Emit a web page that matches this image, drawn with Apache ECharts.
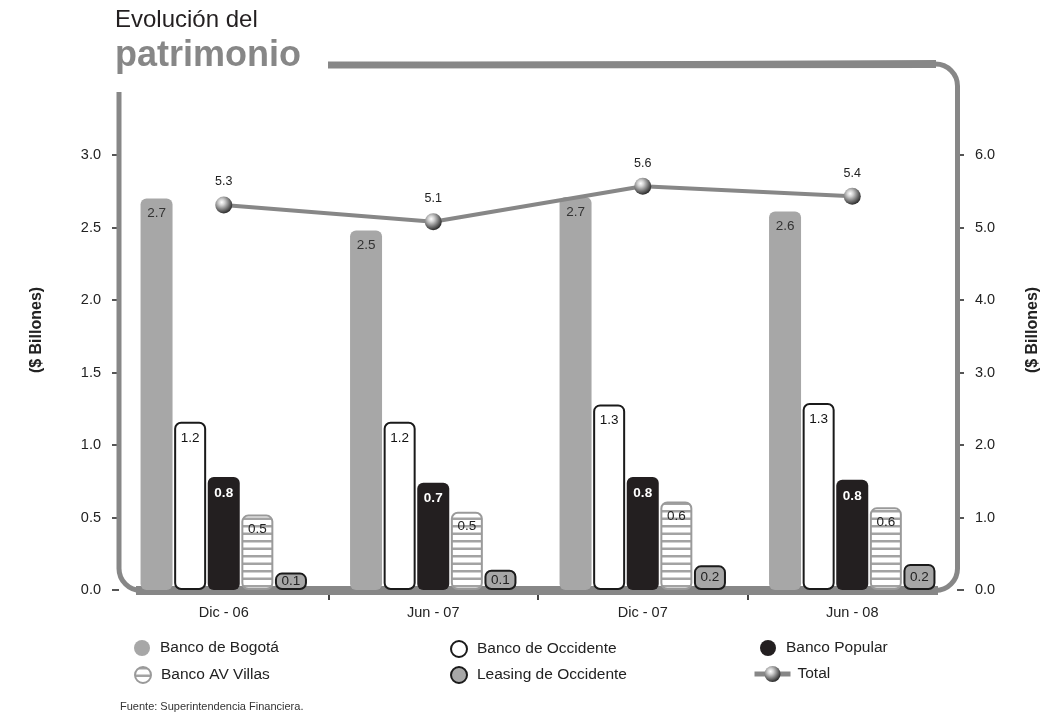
<!DOCTYPE html>
<html><head><meta charset="utf-8">
<script src="https://cdn.jsdelivr.net/npm/echarts@6/dist/echarts.min.js"></script>
<style>html,body{margin:0;padding:0;background:#fff}#chart{width:1040px;height:722px}</style>
</head><body><div id="chart"></div>
<script>
// ---- data ----
const categories = ['Dic - 06', 'Jun - 07', 'Dic - 07', 'Jun - 08'];
const bancoBogota = [2.70, 2.48, 2.71, 2.61];
const bancoOccidente = [1.16, 1.16, 1.28, 1.29];
const bancoPopular = [0.78, 0.74, 0.78, 0.76];
const bancoAVVillas = [0.52, 0.54, 0.61, 0.57];
const leasingOccidente = [0.12, 0.14, 0.17, 0.18];
const total = [5.31, 5.08, 5.57, 5.43];
const leftAxisMax = 3.0, leftAxisStep = 0.5;
const rightAxisMax = 6.0, rightAxisStep = 1.0;
const titleLine1 = 'Evolución del';
const titleLine2 = 'patrimonio';
const axisName = '($ Billones)';
const source = 'Fuente: Superintendencia Financiera.';

// ---- styles ----
const F = "'Liberation Sans', Arial, sans-serif";
const frameColor = '#878787';
const lightGray = '#a7a7a7';

const stripe = document.createElement('canvas');
stripe.width = 8; stripe.height = 15;
(function () {
  const c = stripe.getContext('2d');
  c.fillStyle = '#ffffff'; c.fillRect(0, 0, 8, 15);
  c.fillStyle = '#a3a3a3';
  c.fillRect(0, 0, 8, 2.5);
  c.fillRect(0, 7.5, 8, 2.5);
})();
const stripePattern = { image: stripe, repeat: 'repeat' };

const sphere = {
  type: 'radial', x: 0.38, y: 0.34, r: 0.7,
  colorStops: [
    { offset: 0, color: '#ffffff' },
    { offset: 0.25, color: '#d2d2d2' },
    { offset: 0.7, color: '#666666' },
    { offset: 1, color: '#222222' }
  ]
};

const fmt = p => Number(p.value).toFixed(1);

function bar(name, data, itemStyle, label) {
  return {
    type: 'bar', name: name, data: data, barWidth: 32, barGap: '5%', z: 3,
    itemStyle: Object.assign({ borderRadius: 6 }, itemStyle),
    label: Object.assign({ show: true, fontFamily: F, fontSize: 13.5, formatter: fmt }, label),
    emphasis: { disabled: true }
  };
}

const legendBase = {
  orient: 'horizontal', padding: 0, itemWidth: 16, itemHeight: 16, icon: 'circle', selectedMode: false,
  textStyle: { fontFamily: F, fontSize: 15.5, color: '#222', padding: [0, 0, 0, 5] }
};

const chart = echarts.init(document.getElementById('chart'), null, { renderer: 'canvas' });
chart.setOption({
  backgroundColor: '#ffffff',
  animation: false,
  title: {
    text: titleLine1, subtext: titleLine2, left: 115, top: 6, padding: 0, itemGap: 2,
    textStyle: { fontFamily: F, fontSize: 24, fontWeight: 'normal', color: '#231f20', lineHeight: 28 },
    subtextStyle: { fontFamily: F, fontSize: 36, fontWeight: 'bold', color: frameColor, lineHeight: 40 }
  },
  grid: { left: 119, right: 83, top: 155, bottom: 132, containLabel: false },
  xAxis: [
    {
      type: 'category', data: categories,
      axisLine: { show: false }, axisTick: { show: false },
      axisLabel: { fontFamily: F, fontSize: 14.5, color: '#222', margin: 15 }
    },
    {
      type: 'value', min: 0, max: categories.length, position: 'bottom',
      axisLine: { show: false }, splitLine: { show: false }, axisLabel: { show: false },
      axisTick: { show: true, length: 10, lineStyle: { color: '#444', width: 2 },
        customValues: categories.slice(1).map((c, i) => i + 1) }
    }
  ],
  yAxis: [
    {
      type: 'value', min: 0, max: leftAxisMax, interval: leftAxisStep, position: 'left',
      axisLine: { show: false }, splitLine: { show: false },
      axisTick: { show: true, length: 7, lineStyle: { color: '#555', width: 2 } },
      axisLabel: { fontFamily: F, fontSize: 14.5, color: '#222', margin: 18, formatter: v => v.toFixed(1) }
    },
    {
      type: 'value', min: 0, max: rightAxisMax, interval: rightAxisStep, position: 'right',
      axisLine: { show: false }, splitLine: { show: false },
      axisTick: { show: true, length: 7, lineStyle: { color: '#555', width: 2 } },
      axisLabel: { fontFamily: F, fontSize: 14.5, color: '#222', margin: 18, formatter: v => v.toFixed(1) }
    }
  ],
  legend: [
    Object.assign({}, legendBase, { data: ['Banco de Bogotá'], left: 134, top: 640 }),
    Object.assign({}, legendBase, { data: ['Banco de Occidente'], left: 450, top: 640 }),
    Object.assign({}, legendBase, { data: ['Banco Popular'], left: 760, top: 640 }),
    Object.assign({}, legendBase, { data: ['Banco AV Villas'], left: 134, top: 666 }),
    Object.assign({}, legendBase, { data: ['Leasing de Occidente'], left: 450, top: 666 }),
    {
      orient: 'horizontal', padding: 0, itemWidth: 36, itemHeight: 20, selectedMode: false,
      data: ['Total'], left: 752, top: 666,
      lineStyle: { width: 5, color: frameColor },
      textStyle: { fontFamily: F, fontSize: 15.5, color: '#222', padding: [0, 0, 0, 2] }
    }
  ],
  graphic: [
    { type: 'rect', z: 1, silent: true,
      shape: { x: 119, y: 64, width: 838.5, height: 526.5, r: 22 },
      style: { fill: 'none', stroke: frameColor, lineWidth: 5 } },
    { type: 'rect', z: 1, silent: true,
      shape: { x: 100, y: 45, width: 228, height: 47 },
      style: { fill: '#ffffff' } },
    { type: 'polygon', z: 1, silent: true,
      shape: { points: [[328, 62.5], [936, 60], [936, 68], [328, 68.5]] },
      style: { fill: frameColor } },
    { type: 'rect', z: 1, silent: true,
      shape: { x: 136, y: 586, width: 802, height: 9 },
      style: { fill: frameColor } },
    { type: 'text', x: 37, y: 330, rotation: Math.PI / 2, silent: true,
      style: { text: axisName, fontFamily: F, fontSize: 16, fontWeight: 'bold', fill: '#222', align: 'center', verticalAlign: 'middle' } },
    { type: 'text', x: 1033, y: 330, rotation: Math.PI / 2, silent: true,
      style: { text: axisName, fontFamily: F, fontSize: 16, fontWeight: 'bold', fill: '#222', align: 'center', verticalAlign: 'middle' } },
    { type: 'text', x: 120, y: 707, silent: true,
      style: { text: source, fontFamily: F, fontSize: 11, fill: '#333', verticalAlign: 'middle' } }
  ],
  series: [
    bar('Banco de Bogotá', bancoBogota, { color: lightGray },
      { position: 'insideTop', distance: 8, color: '#333' }),
    bar('Banco de Occidente', bancoOccidente, { color: '#ffffff', borderColor: '#1a1a1a', borderWidth: 2 },
      { position: 'insideTop', distance: 9, color: '#111' }),
    bar('Banco Popular', bancoPopular, { color: '#231f20' },
      { position: 'insideTop', distance: 9, color: '#ffffff', fontWeight: 'bold' }),
    bar('Banco AV Villas', bancoAVVillas, { color: stripePattern, borderColor: '#9a9a9a', borderWidth: 2 },
      { position: 'insideTop', distance: 8, color: '#222' }),
    bar('Leasing de Occidente', leasingOccidente, { color: lightGray, borderColor: '#1a1a1a', borderWidth: 2 },
      { position: 'inside', color: '#222' }),
    {
      type: 'line', name: 'Total', data: total, yAxisIndex: 1, z: 6,
      symbol: 'circle', symbolSize: 17,
      itemStyle: { color: sphere, borderWidth: 0 },
      lineStyle: { color: frameColor, width: 4 },
      label: { show: true, position: 'top', distance: 8, fontFamily: F, fontSize: 12.5, color: '#222', formatter: fmt },
      emphasis: { disabled: true }
    }
  ]
});
</script></body></html>
